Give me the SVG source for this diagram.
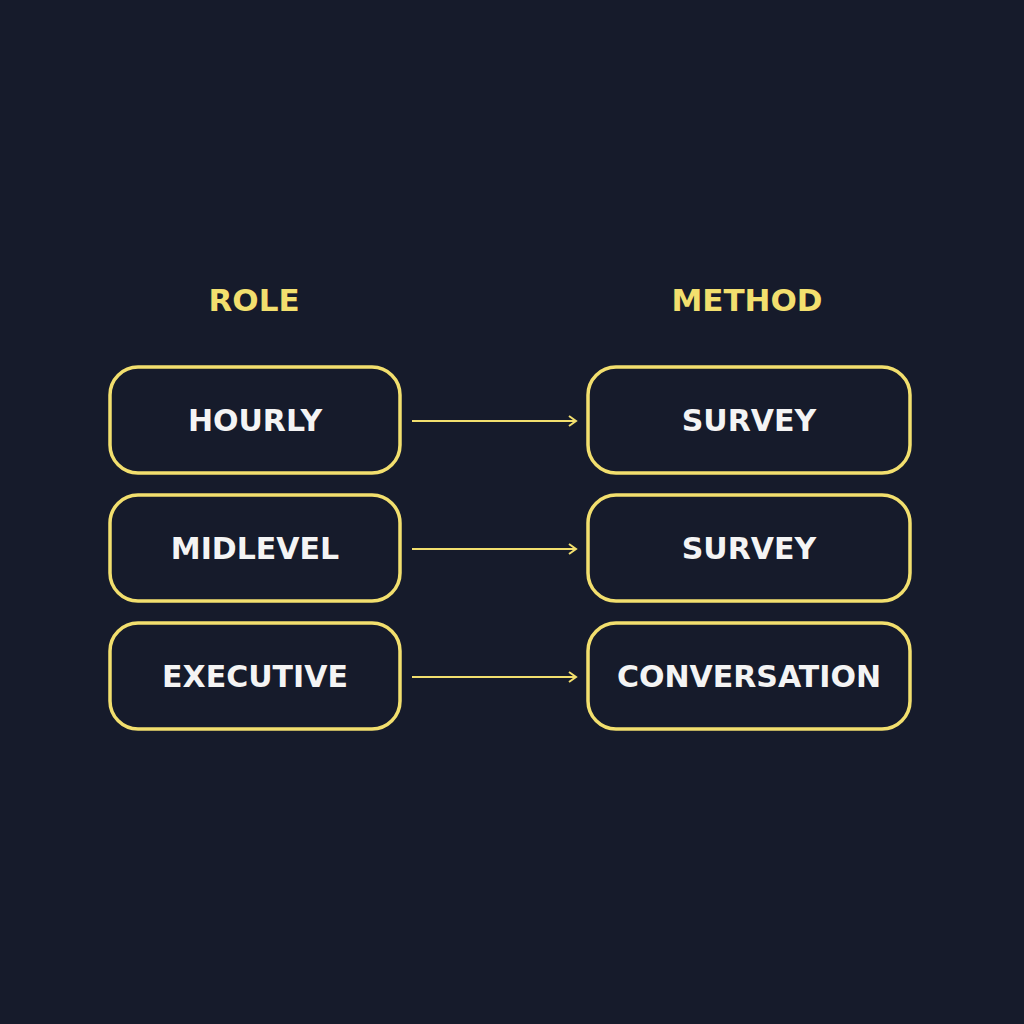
<svg xmlns="http://www.w3.org/2000/svg" width="1024" height="1024" viewBox="0 0 1024 1024">
<style>
.box{fill:#161b2b;stroke:#f2df6e;stroke-width:3.5}
.t{font-family:"DejaVu Sans","Liberation Sans",sans-serif;font-weight:bold;font-size:30px;fill:#f4f4f4;text-anchor:middle}
.h{font-family:"DejaVu Sans","Liberation Sans",sans-serif;font-weight:bold;font-size:31px;fill:#f2df6e;text-anchor:middle}
.c{stroke:#f2df6e;stroke-width:2;fill:none}
</style>
<defs><marker id="a" markerWidth="12" markerHeight="12" refX="10" refY="6" orient="auto" markerUnits="userSpaceOnUse"><path d="M3,1 L10,6 L3,11" fill="none" stroke="#f2df6e" stroke-width="2"/></marker></defs>
<rect width="1024" height="1024" fill="#161b2b"/>
<text class="h" x="254" y="311">ROLE</text>
<text class="h" x="747" y="311">METHOD</text>
<g id="hourly"><rect class="box" x="110" y="367" width="290" height="106" rx="28"/><text class="t" x="255" y="431">HOURLY</text></g>
<g id="midlevel"><rect class="box" x="110" y="495" width="290" height="106" rx="28"/><text class="t" x="255" y="559">MIDLEVEL</text></g>
<g id="executive"><rect class="box" x="110" y="623" width="290" height="106" rx="28"/><text class="t" x="255" y="687">EXECUTIVE</text></g>
<g id="survey1"><rect class="box" x="588" y="367" width="322" height="106" rx="28"/><text class="t" x="749" y="431">SURVEY</text></g>
<g id="survey2"><rect class="box" x="588" y="495" width="322" height="106" rx="28"/><text class="t" x="749" y="559">SURVEY</text></g>
<g id="conversation"><rect class="box" x="588" y="623" width="322" height="106" rx="28"/><text class="t" x="749" y="687">CONVERSATION</text></g>
<g id="connectors">
<line class="c" x1="412" y1="421" x2="576" y2="421" marker-end="url(#a)"/>
<line class="c" x1="412" y1="549" x2="576" y2="549" marker-end="url(#a)"/>
<line class="c" x1="412" y1="677" x2="576" y2="677" marker-end="url(#a)"/>
</g>
</svg>
